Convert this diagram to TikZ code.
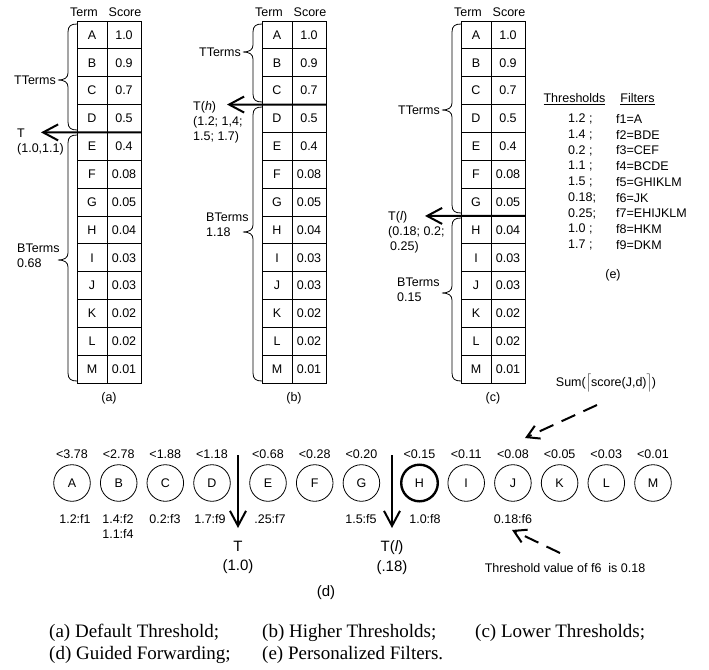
\documentclass[tikz,border=0pt]{standalone}
\usepackage{fontspec}
\setmainfont{Liberation Sans}
\newfontfamily\capfamily{Liberation Serif}
\usetikzlibrary{arrows.meta}
\newcommand{\dfont}{\fontsize{12.5}{14.8}\selectfont}
\newcommand{\bfontx}{\fontsize{15}{18}\selectfont}
\newcommand{\cfont}{\capfamily\fontsize{19}{22}\selectfont}
\newcommand{\mybrace}[4]{%
  \draw[brc] (#1,#2) .. controls ({#1-6},#2) and ({#1-9},{#2+2}) .. ({#1-9},{#2+8})
    -- ({#1-9},{#4-7}) .. controls ({#1-9},{#4-2}) and ({#1-13},#4) .. ({#1-19},#4)
    .. controls ({#1-13},#4) and ({#1-9},{#4+2}) .. ({#1-9},{#4+7})
    -- ({#1-9},{#3-8}) .. controls ({#1-9},{#3-2}) and ({#1-6},#3) .. (#1,#3);}
\tikzset{
 tcell/.style={draw, line width=0.8pt, minimum width=30pt, minimum height=27.85pt, inner sep=0pt, outer sep=0pt, font=\dfont},
 scell/.style={tcell, minimum width=34pt},
 hdr/.style={font=\dfont, inner sep=0pt},
 lbl/.style={font=\dfont, inner sep=0pt, align=left},
 thr/.style={line width=2pt, -{Straight Barb[length=15pt,width=16pt]}},
 brc/.style={line width=0.8pt},
 circ/.style={circle, draw, line width=0.8pt, minimum size=36.6pt, inner sep=0pt, font=\dfont},
 dlab/.style={font=\dfont, inner sep=0pt},
 biglab/.style={font=\bfontx, inner sep=0pt},
 dsh/.style={line width=2pt, dash pattern=on 15pt off 9pt, -{Straight Barb[length=12pt,width=14pt]}},
 captxt/.style={font=\cfont, inner sep=0pt, anchor=west},
}
\begin{document}
\begin{tikzpicture}[x=1pt,y=-1pt]
\useasboundingbox (0,0) rectangle (709,669);
% tables
\foreach \tx/\tn in {77/a,262/b,461/c}{
  \node[hdr] (\tn-hT) at ({\tx+7},12) {Term};
  \node[hdr] (\tn-hS) at ({\tx+48},12) {Score};
  \foreach \L/\S [count=\i from 0] in {A/1.0,B/0.9,C/0.7,D/0.5,E/0.4,F/0.08,G/0.05,H/0.04,I/0.03,J/0.03,K/0.02,L/0.02,M/0.01}{
    \node[tcell] (\tn-\L) at ({\tx+15},{34.925+\i*27.85}) {\L};
    \node[scell] (\tn-S\L) at ({\tx+47},{34.925+\i*27.85}) {\S};
  }
}
% threshold arrows
\coordinate (a-tip) at (41,132.4);
\draw[thr] (a-SD.south east) -- (a-tip);
\coordinate (b-tip) at (227,104.55);
\draw[thr] (b-SC.south east) -- (b-tip);
\coordinate (c-tip) at (425,215.95);
\draw[thr] (c-SG.south east) -- (c-tip);
% braces
\mybrace{77}{24}{130}{80}
\mybrace{77}{135}{381}{260}
\mybrace{262}{24}{102}{52}
\mybrace{262}{107}{381}{232}
\mybrace{461}{24}{213}{110}
\mybrace{461}{218}{381}{293}
% labels (a)
\node[lbl, anchor=east] (a-tt) at (56,80) {TTerms};
\node[lbl, anchor=west] (a-bt) at (17,256) {BTerms\\0.68};
\node[lbl, anchor=west] (a-tl) at (17,142) {T\\(1.0,1.1)};
% labels (b)
\node[lbl, anchor=east] (b-tt) at (241,52) {TTerms};
\node[lbl, anchor=west] (b-bt) at (206,225) {BTerms\\1.18};
\node[lbl, anchor=west] (b-tl) at (193,122) {T(\textit{h})\\(1.2; 1,4;\\1.5; 1.7)};
% labels (c)
\node[lbl, anchor=east] (c-tt) at (440,110) {TTerms};
\node[lbl, anchor=west] (c-bt) at (397,290) {BTerms\\0.15};
\node[lbl, anchor=west] (c-tl) at (388,232) {T(\textit{l})\\(0.18; 0.2;\\\hspace{2pt}0.25)};
% sublabels
\node[dlab] (la) at (109,398) {(a)};
\node[dlab] (lb) at (294,398) {(b)};
\node[dlab] (lc) at (493,398) {(c)};
% filters (e)
\node[dlab] (thh) at (574.5,99) {\underline{Thresholds}};
\node[dlab] (fih) at (637.5,99) {\underline{Filters}};
\foreach \t/\f [count=\i from 0] in {1.2 ;/f1=A, 1.4 ;/f2=BDE, 0.2 ;/f3=CEF, 1.1 ;/f4=BCDE, 1.5 ;/f5=GHIKLM, 0.18;/f6=JK, 0.25;/f7=EHIJKLM, 1.0 ;/f8=HKM, 1.7 ;/f9=DKM}{
  \node[dlab, anchor=west] (th\i) at (568,{119+15.75*\i}) {\t};
  \node[dlab, anchor=west] (fi\i) at (616,{119+15.75*\i}) {\f};
}
\node[dlab] (le) at (613,275) {(e)};
% guided forwarding row (d)
\foreach \L/\x/\v in {A/72/3.78, B/118.7/2.78, C/165.3/1.88, D/212/1.18, E/268/0.68, F/314.7/0.28, G/361.4/0.20, I/466.2/0.11, J/512.9/0.08, K/559.6/0.05, L/606.3/0.03, M/653/0.01}{
  \node[circ] (d\L) at (\x,483) {\L};
  \node[dlab] (v\L) at (\x,454) {<\v};
}
\node[circ, line width=2.4pt] (dH) at (419.5,483) {H};
\node[dlab] (vH) at (419.5,454) {<0.15};
\node[dlab] (fA) at (75,519) {1.2:f1};
\node[dlab] (fB1) at (118,519) {1.4:f2};
\node[dlab] (fB2) at (118,534) {1.1:f4};
\node[dlab] (fC) at (165,519) {0.2:f3};
\node[dlab] (fD) at (210,519) {1.7:f9};
\node[dlab] (fE) at (270,519) {.25:f7};
\node[dlab] (fG) at (361,519) {1.5:f5};
\node[dlab] (fH) at (425,519) {1.0:f8};
\node[dlab] (fJ) at (513,519) {0.18:f6};
% T arrows
\coordinate (T1s) at (238,455); \coordinate (T1e) at (238,528);
\draw[thr] (T1s) -- (T1e);
\node[biglab] (T1l) at (238,546) {T};
\node[biglab] (T1v) at (238,567) {(1.0)};
\coordinate (T2s) at (392,455); \coordinate (T2e) at (392,528);
\draw[thr] (T2s) -- (T2e);
\node[biglab] (T2l) at (392,548) {T(\textit{l})};
\node[biglab] (T2v) at (392,568) {(.18)};
\node[biglab] (ld) at (326,593) {(d)};
% annotations
\node[dlab] (sum) at (606,383) {Sum($\Bigl\lceil$score(J,d)$\Bigr\rceil$)};
\coordinate (s1) at (597,405); \coordinate (e1) at (525,438);
\draw[dsh] (s1) -- (e1);
\node[dlab] (note) at (565,568) {Threshold value of f6\ \ is 0.18};
\coordinate (s2) at (560,553); \coordinate (e2) at (512,530);
\draw[dsh] (s2) -- (e2);
% captions
\node[captxt] (ca) at (49,633) {(a) Default Threshold;};
\node[captxt] (cb) at (262,633) {(b) Higher Thresholds;};
\node[captxt] (cc) at (475,633) {(c) Lower Thresholds;};
\node[captxt] (cd) at (49,655) {(d) Guided Forwarding;};
\node[captxt] (ce) at (262,655) {(e) Personalized Filters.};
\end{tikzpicture}
\end{document}
